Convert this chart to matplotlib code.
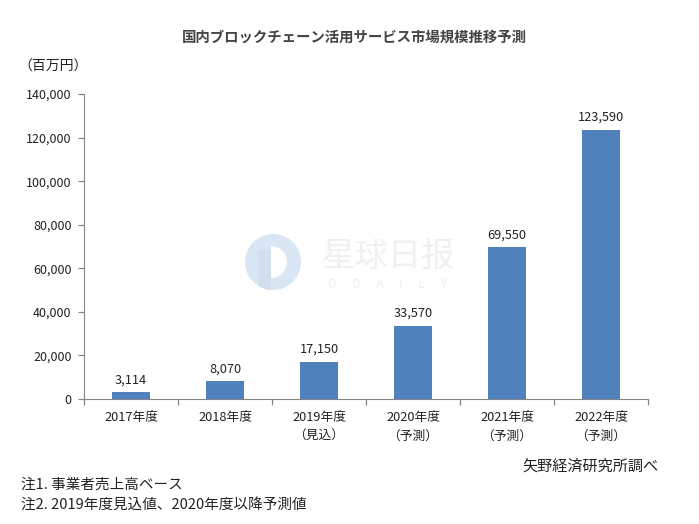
import matplotlib
matplotlib.use('Agg')
import matplotlib.pyplot as plt
import matplotlib.patches as patches
import numpy as np

plt.rcParams['font.family'] = ['Noto Sans CJK JP', 'DejaVu Sans']

# Data
categories = ['2017年度', '2018年度', '2019年度\n（見込）', '2020年度\n（予測）', '2021年度\n（予測）', '2022年度\n（予測）']
values = [3114, 8070, 17150, 33570, 69550, 123590]
y_ticks = [0, 20000, 40000, 60000, 80000, 100000, 120000, 140000]

W, H = 699, 524
TEXT = '#222222'
AXIS = '#868686'
BAR = '#4f81bd'


def px(x, y):
    # pixel coordinates (top left origin) to figure fraction
    return x / W, 1 - y / H


fig = plt.figure(figsize=(W / 100, H / 100), dpi=100, facecolor='white')
ax = fig.add_axes([84 / W, 1 - 399 / H, (648 - 84) / W, (399 - 94) / H])
ax.patch.set_alpha(0)

x = np.arange(len(categories))
ax.bar(x, values, width=0.41, color=BAR, zorder=3)

for xi, v in zip(x, values):
    ax.text(xi, v + 2700, f'{v:,}', ha='center', va='bottom', fontsize=9.2, color=TEXT)

ax.set_xlim(-0.5, len(categories) - 0.5)
ax.set_ylim(y_ticks[0], y_ticks[-1])
ax.set_yticks(y_ticks)
ax.set_yticklabels([f'{t:,}' for t in y_ticks], fontsize=9, color=TEXT)
ax.set_xticks(x)
ax.set_xticklabels(categories, fontsize=9.2, color=TEXT, linespacing=1.55)
ax.set_xticks(np.arange(len(categories) + 1) - 0.5, minor=True)
ax.tick_params(axis='x', which='major', length=0, pad=9)
ax.tick_params(axis='x', which='minor', length=4, width=0.9, color=AXIS)
ax.tick_params(axis='y', length=4, width=0.9, color=AXIS, pad=5)

ax.spines['top'].set_visible(False)
ax.spines['right'].set_visible(False)
ax.spines['left'].set_color(AXIS)
ax.spines['bottom'].set_color(AXIS)

# Title and notes
fig.text(*px(354, 38), '国内ブロックチェーン活用サービス市場規模推移予測', ha='center', va='center',
         fontsize=10.4, fontweight='bold', color='#444444')
fig.text(*px(18, 67), '（百万円）', ha='left', va='center', fontsize=10, color=TEXT)
fig.text(*px(659, 466), '矢野経済研究所調べ', ha='right', va='center', fontsize=10.9, color=TEXT)
fig.text(*px(21, 485), '注1. 事業者売上高ベース', ha='left', va='center', fontsize=10.5, color=TEXT)
fig.text(*px(21, 505), '注2. 2019年度見込値、2020年度以降予測値', ha='left', va='center', fontsize=10.5, color=TEXT)

# Watermark
bg = fig.add_axes([0, 0, 1, 1], zorder=-1)
bg.set_xlim(0, W)
bg.set_ylim(H, 0)
bg.axis('off')
disc = patches.Circle((273, 262), 28, color='#d8e7f3', lw=0)
bg.add_patch(disc)
band = patches.Rectangle((258, 250), 13, 45, color='#d2e0ee', lw=0)
bg.add_patch(band)
band.set_clip_path(disc)
bg.add_patch(patches.Wedge((271, 262), 16, -90, 90, color='white', lw=0))
bg.text(388, 256, '星球日报', ha='center', va='center', fontsize=24, color='#f0f0f0')
bg.text(388, 285, 'O      D      A      I      L      Y', ha='center', va='center', fontsize=8.5, color='#efefef')

fig.savefig('out.png', dpi=100)
